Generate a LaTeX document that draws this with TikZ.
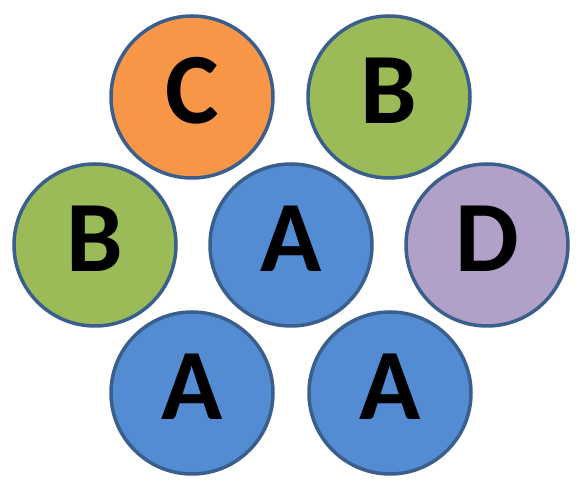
\documentclass[tikz,border=0pt]{standalone}
\usepackage{fontspec}
\setmainfont{Carlito}
\definecolor{edgeblue}{HTML}{3A5F8C}
\definecolor{cOrange}{HTML}{F79646}
\definecolor{cGreen}{HTML}{9BBB59}
\definecolor{cBlue}{HTML}{538CD3}
\definecolor{cPurple}{HTML}{B1A0C7}
\tikzset{
  ball/.style={circle, draw=edgeblue, line width=3.5pt, minimum size=162pt, inner sep=0pt,
    font=\fontsize{101}{101}\selectfont\bfseries, text height=65pt, text depth=11pt},
}
\begin{document}
\begin{tikzpicture}[x=1pt,y=1pt]
\useasboundingbox (0,0) rectangle (582,497);
\node[ball, fill=cOrange] (c1) at (192,400) {C};
\node[ball, fill=cGreen]  (b1) at (389,400) {B};
\node[ball, fill=cGreen]  (b2) at (95,252) {B};
\node[ball, fill=cBlue]   (a1) at (291,252) {A};
\node[ball, fill=cPurple] (d1) at (487,252) {D};
\node[ball, fill=cBlue]   (a2) at (192,104) {A};
\node[ball, fill=cBlue]   (a3) at (390,104) {A};
\end{tikzpicture}
\end{document}
